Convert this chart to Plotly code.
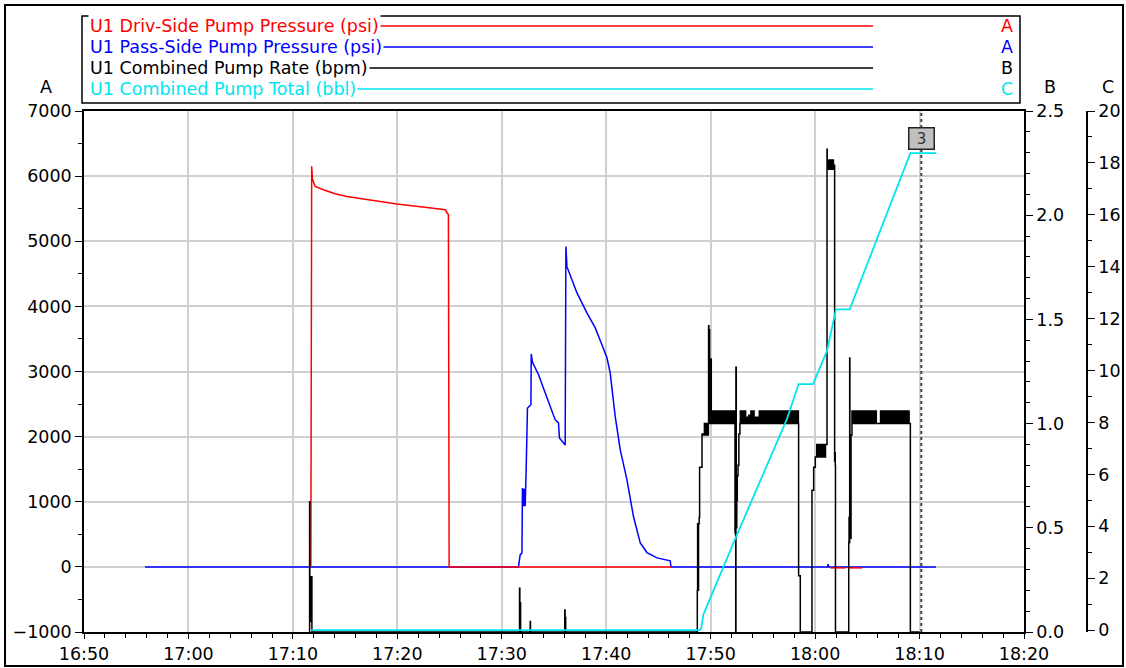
import numpy as np
import pandas as pd
import plotly.graph_objects as go

BASE = pd.Timestamp("2021-03-15 16:50:00")

# ---- Driver-side pump pressure (psi); times are minutes after 16:50, None = no sample
driv_min = [21.72, 21.78, 21.80, 21.87, 22.13, 22.92, 24.04, 25.16, 27.08, 29.95,
            32.83, 34.58, 34.89, 34.96, 56.20, None, 71.46, 72.90, None, 73.20, 74.50]
driv_psi = [0, 4600, 6150, 5955, 5842, 5791, 5730, 5688, 5637, 5571,
            5519, 5484, 5407, 0, 0, None, -15, -15, None, -15, -15]

# ---- Passenger-side pump pressure (psi)
pass_min = [5.84, 41.60, 41.76, 41.93, 41.98, 42.05, 42.10, 42.15, 42.19, 42.24,
            42.34, 42.46, 42.79, 42.82, 42.94, 43.52, 44.16, 44.80, 45.11, 45.43,
            45.52, 46.07, 46.14, 46.24, 47.19, 48.15, 48.95, 49.59, 50.07, 50.38,
            50.86, 51.34, 51.98, 52.61, 53.26, 53.90, 54.86, 56.13, 56.20, 71.20,
            71.25, 71.30, 81.57]
pass_psi = [0, 0, 184, 215, 1210, 930, 1200, 930, 1200, 930,
            1535, 2440, 2490, 3270, 3140, 2950, 2670, 2410, 2260, 2210,
            1980, 1870, 4920, 4610, 4210, 3900, 3670, 3410, 3210, 2980,
            2310, 1800, 1340, 773, 369, 220, 138, 92, 0, 0,
            40, 0, 0]

# ---- Combined pump rate (bpm): individual readings
rate_a_min = [21.58, 21.60, 21.62, 21.65, 21.70, 21.75, 21.82, 41.65, 41.70, 41.73,
              41.77, 41.80, 42.70, 42.72, 42.75, 46.00, 46.03, 46.06, 46.09, 46.12,
              58.69, 58.72, 58.75, 58.80, 58.84, 58.90, 58.94, 59.05, 59.17, 59.30,
              59.40, 59.50, 59.60, 59.70, 59.78, 59.80, 59.83, 59.86, 59.90, 60.03,
              60.06]
rate_a_bpm = [0, 0.625, 0.10, 0.265, 0.05, 0.265, 0, 0, 0.21, 0.02,
              0.14, 0, 0, 0.05, 0, 0, 0.105, 0.02, 0.07, 0,
              0, 0.20, 0.52, 0.20, 0.52, 0.55, 0.79, 0.79, 0.95, 0.945,
              1.0, 0.945, 1.0, 0.945, 1.0, 1.47, 1.0, 1.45, 1.0, 1.31,
              1.0]
rate_b_min = [62.33, 62.35, 62.37, 62.39, 62.40, 62.42, 62.45, 62.50, 62.55, 62.62,
              62.70, 62.80]
rate_b_bpm = [0.48, 1.0, 0.47, 0.90, 0, 1.27, 0.50, 0.63, 0.75, 0.80,
              0.95, 1.0]
rate_c_min = [68.42, 68.56, 68.58, 69.68, 69.70, 69.86, 70.02]
rate_c_bpm = [0.27, 0.27, 0, 0, 0.68, 0.79, 0.84]
rate_d_min = [71.12, 71.14, 71.16]
rate_d_bpm = [0.90, 2.316, 2.22]
rate_e_min = [71.87, 71.90, 71.93, 71.95, 73.20, 73.22, 73.25, 73.28, 73.31, 73.33,
              73.36, 73.44]
rate_e_bpm = [0.82, 0.86, 0.80, 0, 0, 0.43, 0.55, 0.43, 1.315, 0.55,
              0.45, 0.945]
rate_f_min = [79.12, 80.00]
rate_f_bpm = [0, 0]

# Steady pumping stretches logged at a fast rate: (start, end) and readings
band1_span = (60.12, 62.30)
band1_bpm = [1.06, 1.0, 1.06, 1.0, 1.06, 1.0, 1.06, 1.0, 1.06, 1.0, 1.06,
             1.0, 1.06, 1.0, 1.06, 1.0, 1.06, 1.0, 1.06, 1.0, 1.06, 1.0]
band2_span = (62.84, 68.40)
band2_bpm = [1.06, 1.0, 1.06, 1.0, 1.06, 1.0, 1.03, 1.0, 1.04, 1.0, 1.06, 1.0,
             1.06, 1.0, 1.03, 1.0, 1.03, 1.0, 1.06, 1.0, 1.06, 1.0, 1.06, 1.0,
             1.06, 1.0, 1.06, 1.0, 1.06, 1.0, 1.06, 1.0, 1.06, 1.0, 1.06, 1.0,
             1.06, 1.0, 1.06, 1.0, 1.06, 1.0, 1.06, 1.0, 1.06, 1.0, 1.06, 1.0,
             1.06, 1.0, 1.06, 1.0, 1.06, 1.0, 1.06, 1.0]
band_low_span = (70.05, 71.10)
band_low_bpm = [0.84, 0.90, 0.84, 0.90, 0.84, 0.90, 0.84, 0.90, 0.84, 0.90, 0.90]
band3_span = (71.18, 71.85)
band3_bpm = [2.22, 2.265, 2.22, 2.265, 2.22, 2.265, 2.22, 2.24]
band4_span = (73.53, 79.10)
band4_bpm = [1.06, 1.0, 1.06, 1.0, 1.06, 1.0, 1.06, 1.0, 1.06, 1.0, 1.06, 1.0,
             1.06, 1.0, 1.06, 1.0, 1.06, 1.0, 1.06, 1.0, 1.06, 1.0, 1.06, 1.0,
             1.0, 1.0, 1.0, 1.06, 1.0, 1.06, 1.0, 1.06, 1.0, 1.06, 1.0, 1.06,
             1.0, 1.06, 1.0, 1.06, 1.0, 1.06, 1.0, 1.06, 1.0, 1.06, 1.0, 1.06,
             1.0, 1.06, 1.0, 1.06, 1.0, 1.06, 1.0, 1.0]

# ---- Combined pump total (bbl)
total_min = [21.74, 58.95, 59.10, 59.30, 62.36, 67.31, 68.42, 69.80, 71.14, 71.78,
             72.00, 73.31, 79.12, 81.60]
total_bbl = [0, 0, 0.08, 0.6, 3.53, 8.14, 9.48, 9.48, 10.76, 12.04,
             12.36, 12.36, 18.38, 18.38]

CURSOR_MIN = 80.17
CURSOR_LABEL = "3"

LEGEND_ROWS = [
    ("U1 Driv-Side Pump Pressure (psi)", "#ff0000", "A"),
    ("U1 Pass-Side Pump Pressure (psi)", "#0000ff", "A"),
    ("U1 Combined Pump Rate (bpm)", "#000000", "B"),
    ("U1 Combined Pump Total (bbl)", "#00e5ee", "C"),
]


def to_time(mins):
    return [None if m is None else BASE + pd.Timedelta(minutes=m) for m in mins]


def band(span, vals):
    return list(np.linspace(span[0], span[1], len(vals))), list(vals)


rate_min, rate_bpm = [], []
for part in [(rate_a_min, rate_a_bpm), band(band1_span, band1_bpm),
             (rate_b_min, rate_b_bpm), band(band2_span, band2_bpm),
             (rate_c_min, rate_c_bpm), band(band_low_span, band_low_bpm),
             (rate_d_min, rate_d_bpm), band(band3_span, band3_bpm),
             (rate_e_min, rate_e_bpm), band(band4_span, band4_bpm),
             (rate_f_min, rate_f_bpm)]:
    rate_min += list(part[0])
    rate_bpm += list(part[1])

# ---- pixel geometry helpers for paper-referenced decorations
L, R, T, B = 84, 30, 111, 36
W, H = 1126, 668
PW = W - L - R
PH = H - T - B
X_END = (1024 - L) / PW
C_POS = (1087 - L) / PW


def px(x):
    return (x - L) / PW


def py(y):
    return (H - B - y) / PH


FONT = "DejaVu Sans, Verdana, sans-serif"
TICK_SIZE = 17.5
TEXT_SIZE = 17.5

fig = go.Figure()
fig.add_trace(go.Scatter(x=to_time(rate_min), y=rate_bpm, mode="lines", yaxis="y2",
                         line=dict(color="#000000", width=1.5, shape="hv"),
                         name="U1 Combined Pump Rate (bpm)"))
fig.add_trace(go.Scatter(x=to_time(pass_min), y=pass_psi, mode="lines", yaxis="y",
                         line=dict(color="#0000ff", width=1.5), name="U1 Pass-Side Pump Pressure (psi)"))
fig.add_trace(go.Scatter(x=to_time(driv_min), y=driv_psi, mode="lines", yaxis="y",
                         line=dict(color="#ff0000", width=1.5), connectgaps=False,
                         name="U1 Driv-Side Pump Pressure (psi)"))
fig.add_trace(go.Scatter(x=to_time(total_min), y=total_bbl, mode="lines", yaxis="y3",
                         line=dict(color="#00e5ee", width=1.8), name="U1 Combined Pump Total (bbl)"))

axis_common = dict(showline=True, linecolor="black", linewidth=1.5, ticks="outside",
                   tickcolor="black", tickwidth=1, ticklen=7, zeroline=False, automargin=False,
                   tickfont=dict(family=FONT, size=TICK_SIZE, color="black"))

fig.update_layout(
    width=W, height=H,
    margin=dict(l=L, r=R, t=T, b=B, autoexpand=False),
    paper_bgcolor="white", plot_bgcolor="white",
    showlegend=False,
    font=dict(family=FONT, size=TEXT_SIZE, color="black"),
    xaxis=dict(domain=[0, X_END], type="date",
               range=[BASE, BASE + pd.Timedelta(minutes=90)],
               tick0=BASE, dtick=600000, tickformat="%H:%M",
               showgrid=True, gridcolor="#d0d0d0", gridwidth=1.5, mirror=True,
               layer="below traces",
               minor=dict(dtick=120000, ticks="outside", ticklen=4, tickcolor="black", showgrid=False),
               **{**axis_common, "ticklen": 5}),
    yaxis=dict(range=[-1000, 7000], dtick=1000, showgrid=True, gridcolor="#d0d0d0", gridwidth=1.5,
               minor=dict(dtick=500, ticks="outside", ticklen=4, tickcolor="black", showgrid=False),
               **axis_common),
    yaxis2=dict(range=[0, 2.5], dtick=0.5, tickformat=".1f", overlaying="y", side="right",
                anchor="x", showgrid=False,
                minor=dict(dtick=0.1, ticks="outside", ticklen=4, tickcolor="black", showgrid=False),
                **axis_common),
    # lower bound nudged just under zero so the flat zero run of the total sits on the frame
    yaxis3=dict(range=[-0.07, 20], tickvals=list(range(0, 21, 2)), overlaying="y", side="right",
                anchor="free", position=C_POS, showgrid=False,
                minor=dict(tickvals=list(range(1, 20, 2)), ticks="outside", ticklen=4,
                           tickcolor="black", showgrid=False),
                **axis_common),
)

shapes = []
annotations = []

# outer frame
shapes.append(dict(type="rect", xref="paper", yref="paper", x0=px(5), x1=px(1123),
                   y0=py(666), y1=py(5), line=dict(color="black", width=2), layer="below"))
# legend frame
shapes.append(dict(type="rect", xref="paper", yref="paper", x0=px(82), x1=px(1020),
                   y0=py(103), y1=py(16), line=dict(color="black", width=1.5),
                   fillcolor="white"))

row_y = [26, 47, 68, 89]
for (label, color, axis_letter), yy in zip(LEGEND_ROWS, row_y):
    shapes.append(dict(type="line", xref="paper", yref="paper", x0=px(90), x1=px(873),
                       y0=py(yy), y1=py(yy), line=dict(color=color, width=1.5)))
    annotations.append(dict(xref="paper", yref="paper", x=px(88), y=py(yy), text=label,
                            showarrow=False, xanchor="left", yanchor="middle",
                            bgcolor="white", borderpad=1,
                            font=dict(family=FONT, size=TEXT_SIZE, color=color)))
    annotations.append(dict(xref="paper", yref="paper", x=px(1007), y=py(yy), text=axis_letter,
                            showarrow=False, xanchor="center", yanchor="middle",
                            font=dict(family=FONT, size=TEXT_SIZE, color=color)))

# axis identifiers
for letter, xx in [("A", 46), ("B", 1050), ("C", 1108)]:
    annotations.append(dict(xref="paper", yref="paper", x=px(xx), y=py(87), text=letter,
                            showarrow=False, xanchor="center", yanchor="middle",
                            font=dict(family=FONT, size=TEXT_SIZE, color="black")))

# cursor line with its tag
cursor_t = BASE + pd.Timedelta(minutes=CURSOR_MIN)
shapes.append(dict(type="line", xref="x", yref="paper", x0=cursor_t, x1=cursor_t, y0=0, y1=1,
                   line=dict(color="#444444", width=2, dash="dot")))
annotations.append(dict(xref="x", yref="paper", x=cursor_t, y=py(138.5), text=CURSOR_LABEL,
                        showarrow=False, xanchor="center", yanchor="middle",
                        bgcolor="#c0c0c0", bordercolor="#222222", borderwidth=1.5, borderpad=2,
                        width=20, height=16,
                        font=dict(family=FONT, size=15, color="#333333")))

fig.update_layout(shapes=shapes, annotations=annotations)
fig.write_html("out.html")
